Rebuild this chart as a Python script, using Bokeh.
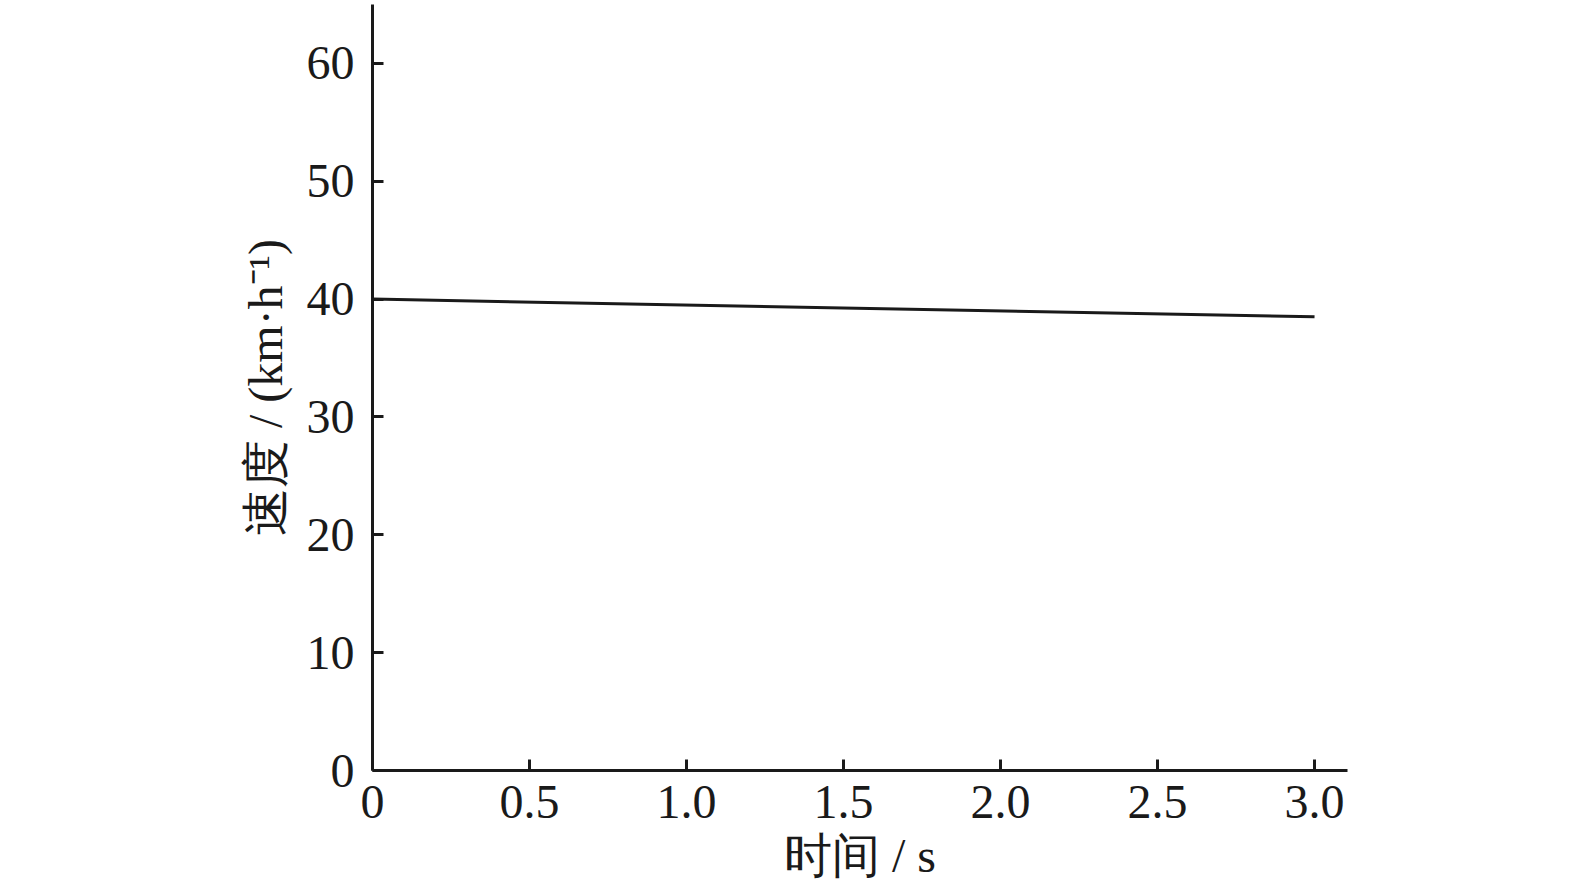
from bokeh.plotting import figure
from bokeh.models import Range1d, FixedTicker
from bokeh.embed import file_html
from bokeh.resources import INLINE

# data
time_s = [0.0, 3.0]
speed_kmh = [40.0, 38.5]
x_ticks = [0, 0.5, 1.0, 1.5, 2.0, 2.5, 3.0]
x_tick_labels = ["0", "0.5", "1.0", "1.5", "2.0", "2.5", "3.0"]
y_ticks = [0, 10, 20, 30, 40, 50, 60]

FONT = "Liberation Serif"

p = figure(
    output_backend="svg", toolbar_location=None,
    frame_width=975, frame_height=766,
    min_border_left=372, min_border_right=212,
    min_border_top=4, min_border_bottom=103,
    x_range=Range1d(0, 3.105), y_range=Range1d(0, 65.0),
)
p.outline_line_color = None
p.xgrid.visible = False
p.ygrid.visible = False
p.background_fill_color = "white"
p.border_fill_color = "white"

p.line(time_s, speed_kmh, line_color="#1a1a1a", line_width=3)

for ax in (p.xaxis[0], p.yaxis[0]):
    ax.axis_line_width = 3
    ax.axis_line_color = "#1a1a1a"
    ax.major_tick_line_width = 3
    ax.major_tick_line_color = "#1a1a1a"
    ax.major_tick_in = 11
    ax.major_tick_out = 0
    ax.minor_tick_line_color = None
    ax.major_label_text_font = FONT
    ax.major_label_text_font_size = "48px"
    ax.major_label_text_color = "#1a1a1a"
    ax.axis_label_text_font = FONT
    ax.axis_label_text_font_size = "48px"
    ax.axis_label_text_font_style = "normal"
    ax.axis_label_text_color = "#1a1a1a"

p.xaxis[0].ticker = FixedTicker(ticks=x_ticks)
p.xaxis[0].major_label_overrides = {t: l for t, l in zip(x_ticks, x_tick_labels)}
p.xaxis[0].major_label_standoff = 15
p.xaxis[0].axis_label = "时间 / s"
p.xaxis[0].axis_label_standoff = 8

p.yaxis[0].ticker = FixedTicker(ticks=y_ticks)
p.yaxis[0].major_label_standoff = 18
p.yaxis[0].axis_label = "速度 / (km·h⁻¹)"
p.yaxis[0].axis_label_standoff = 12

open("out.html", "w").write(file_html(p, INLINE))
